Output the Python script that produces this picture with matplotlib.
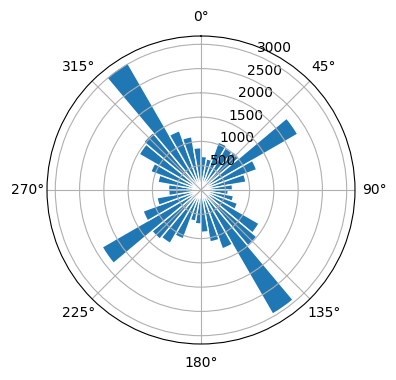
import matplotlib
matplotlib.use("Agg")
import matplotlib.pyplot as plt
import numpy as np

# direction bins (degrees, bin start) and counts per bin
bin_starts = np.arange(0, 360, 10)
counts = [690, 650, 1050, 1000, 1030, 2300, 1220, 940, 650,
          560, 680, 800, 1380, 1500, 2950, 1290, 1085, 870,
          700, 650, 1070, 1270, 1320, 2350, 1270, 920, 665,
          670, 900, 1100, 1470, 1540, 3020, 1300, 1115, 870]

fig = plt.figure(figsize=(3.96, 3.80))
ax = fig.add_axes([47 / 396, 36 / 380, 308 / 396, 308 / 380], projection="polar")
ax.set_theta_zero_location("N")
ax.set_theta_direction(-1)

ax.bar(np.deg2rad(bin_starts), counts, width=np.deg2rad(10), align="edge",
       edgecolor="white", linewidth=1)

fig.savefig("out.png")
